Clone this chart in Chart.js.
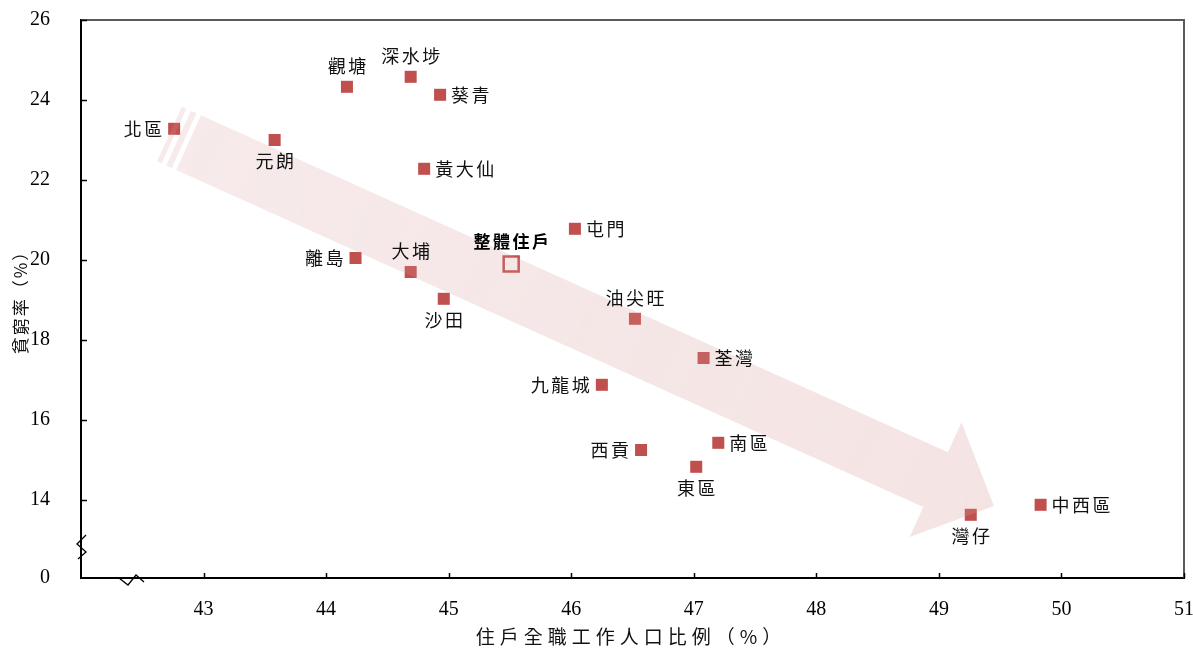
<!DOCTYPE html>
<html><head><meta charset="utf-8">
<script src="https://cdn.jsdelivr.net/npm/chart.js@4/dist/chart.umd.min.js"></script>
<style>html,body{margin:0;padding:0;background:#fff}#wrap{width:1193px;height:650px;position:relative}</style>
</head><body><div id="wrap"><canvas id="c" width="1193" height="650"></canvas></div>
<script>
// ---- data ----
const districts = ['北區','元朗','觀塘','深水埗','葵青','黃大仙','屯門','離島','大埔','沙田','油尖旺','荃灣','九龍城','西貢','南區','東區','中西區','灣仔'];
const fullTimeShare = [42.76,43.58,44.17,44.69,44.93,44.80,46.03,44.24,44.69,44.96,46.52,47.08,46.25,46.57,47.20,47.02,49.83,49.26];
const povertyRate   = [23.28,23.00,24.33,24.58,24.13,22.28,20.78,20.05,19.70,19.03,18.53,17.55,16.88,15.25,15.43,14.83,13.88,13.63];
const overallName = ['整體住戶'];
const overallShare = [45.51];
const overallRate = [19.90];
const xTickValues = [42,43,44,45,46,47,48,49,50,51];
const yMin = 12.05; // broken axis: bottom of the axis is labelled 0
const yTickValues = [yMin,14,16,18,20,22,24,26];
const yTickLabels = ['0','14','16','18','20','22','24','26'];
const xTitle = '住戶全職工作人口比例（%）';
const yTitle = '貧窮率（%）';
// label placement: L=left, R=right, T=top, B=bottom
const labelPlace = ['L','B','T','T','R','R','R','L','T','B','T','R','L','L','R','B','R','B'];
// trend arrow (data coordinates)
const arrowTail = {x:42.722, y:23.15};
const arrowTip  = {x:49.449, y:13.85};

const RED = '#C0504D';
const CJK = '"Noto Sans CJK TC", "Noto Sans CJK SC", sans-serif';

const decor = {
  id:'decor',
  afterDatasetsDraw(chart){
    const ctx = chart.ctx, xs = chart.scales.x, ys = chart.scales.y, a = chart.chartArea;
    // ---- arrow ----
    const tx = xs.getPixelForValue(arrowTail.x), ty = ys.getPixelForValue(arrowTail.y);
    const px = xs.getPixelForValue(arrowTip.x), py = ys.getPixelForValue(arrowTip.y);
    const L = Math.hypot(px-tx, py-ty);
    const ux=(px-tx)/L, uy=(py-ty)/L, nx=uy, ny=-ux;
    const P=(s,w)=>[tx+ux*s+nx*w, ty+uy*s+ny*w];
    const hw=30, headW=63, headL=64, base=L-headL;
    const grad = ctx.createLinearGradient(tx,ty,px,py);
    grad.addColorStop(0,'rgba(214,150,150,0.20)');
    grad.addColorStop(1,'rgba(214,150,150,0.26)');
    ctx.save();
    ctx.fillStyle = grad;
    const poly=(pts)=>{ctx.beginPath();pts.forEach((p,i)=>i?ctx.lineTo(p[0],p[1]):ctx.moveTo(p[0],p[1]));ctx.closePath();ctx.fill();};
    poly([P(0,hw),P(5,hw),P(5,-hw),P(0,-hw)]);
    poly([P(10,hw),P(16,hw),P(16,-hw),P(10,-hw)]);
    poly([P(21,hw),P(base,hw),P(base,headW),P(L,0),P(base,-headW),P(base,-hw),P(21,-hw)]);
    ctx.restore();
    // ---- frame top/right ----
    ctx.save();
    ctx.strokeStyle='#595959'; ctx.lineWidth=2;
    ctx.beginPath(); ctx.moveTo(a.left,a.top); ctx.lineTo(a.right,a.top); ctx.lineTo(a.right,a.bottom); ctx.stroke();
    // inward ticks
    ctx.strokeStyle='#000'; ctx.lineWidth=1.5;
    ctx.beginPath();
    yTickValues.forEach(v=>{ if(v===yMin) return; const y=Math.round(ys.getPixelForValue(v))+0.5; ctx.moveTo(a.left,y); ctx.lineTo(a.left+6,y);});
    xTickValues.forEach(v=>{ if(v===42) return; const x=Math.round(xs.getPixelForValue(v))+0.5; ctx.moveTo(x,a.bottom); ctx.lineTo(x,a.bottom-5);});
    ctx.stroke();
    // break marks
    ctx.lineWidth=1.3;
    ctx.beginPath();
    const b=a.bottom, l=a.left;
    ctx.moveTo(l+5,b-43); ctx.lineTo(l-4,b-34); ctx.lineTo(l+5,b-26); ctx.lineTo(l-3,b-19);
    ctx.moveTo(l+38,b); ctx.lineTo(l+47,b+7); ctx.lineTo(l+55,b-3); ctx.lineTo(l+63,b+4);
    ctx.stroke();
    // ---- point labels ----
    ctx.fillStyle='#111';
    ctx.font='18px '+CJK;
    ctx.letterSpacing='2.5px';
    ctx.textBaseline='middle';
    const meta = chart.getDatasetMeta(0);
    districts.forEach((name,i)=>{
      const el = meta.data[i]; const x=el.x, y=el.y;
      const w = ctx.measureText(name).width - 2.5;
      const pl = labelPlace[i];
      let lx, ly=y;
      if(pl==='L'){ lx = x-12-w; }
      else if(pl==='R'){ lx = x+11; }
      else if(pl==='T'){ lx = x-w/2; ly = y-21; }
      else { lx = x-w/2; ly = y+21; }
      ctx.textAlign='left';
      ctx.fillText(name,lx,ly);
    });
    const m2 = chart.getDatasetMeta(1).data[0];
    ctx.font='bold 17px '+CJK;
    const w2 = ctx.measureText(overallName[0]).width-2.5;
    ctx.fillStyle='#000';
    ctx.fillText(overallName[0], m2.x-w2/2, m2.y-22);
    // ---- axis titles ----
    ctx.font='19px '+CJK;
    ctx.letterSpacing='5px';
    ctx.fillStyle='#111';
    const tw = ctx.measureText(xTitle).width-5;
    ctx.fillText(xTitle, (a.left+a.right)/2 - tw/2 - 4, 637);
    ctx.font='17px '+CJK;
    ctx.letterSpacing='2px';
    const yw = ctx.measureText(yTitle).width-2;
    ctx.translate(21,(a.top+a.bottom)/2);
    ctx.rotate(-Math.PI/2);
    ctx.fillText(yTitle,-yw/2,0);
    ctx.restore();
  }
};

new Chart(document.getElementById('c'), {
  type:'scatter',
  data:{datasets:[
    {data: fullTimeShare.map((x,i)=>({x, y:povertyRate[i]})), pointStyle:'rect', pointRadius:8.5, backgroundColor:RED, borderColor:RED, borderWidth:0},
    {data: overallShare.map((x,i)=>({x, y:overallRate[i]})), pointStyle:'rect', pointRadius:10.6, backgroundColor:'#fff', borderColor:RED, borderWidth:2.5}
  ]},
  options:{
    responsive:false, animation:false, events:[],
    layout:{autoPadding:false, padding:{top:20,right:9,left:0,bottom:0}},
    plugins:{legend:{display:false}, tooltip:{enabled:false}},
    scales:{
      x:{type:'linear', min:42, max:51,
        afterBuildTicks:s=>{s.ticks=xTickValues.map(v=>({value:v}));},
        afterFit:s=>{s.height=72; s.paddingLeft=0; s.paddingRight=0;},
        grid:{display:false}, border:{display:true,color:'#000',width:2},
        ticks:{padding:12, color:'#000', font:{family:'"Liberation Serif", serif', size:20}, maxRotation:0, autoSkip:false,
          callback:v=> v===42?'':String(v)}},
      y:{type:'linear', min:yMin, max:26,
        afterBuildTicks:s=>{s.ticks=yTickValues.map(v=>({value:v}));},
        afterFit:s=>{s.width=81; s.paddingTop=0; s.paddingBottom=0;},
        grid:{display:false}, border:{display:true,color:'#000',width:2},
        ticks:{padding:23, color:'#000', font:{family:'"Liberation Serif", serif', size:20}, autoSkip:false,
          callback:v=> yTickLabels[yTickValues.indexOf(v)]}}
    }
  },
  plugins:[decor]
});
</script></body></html>
